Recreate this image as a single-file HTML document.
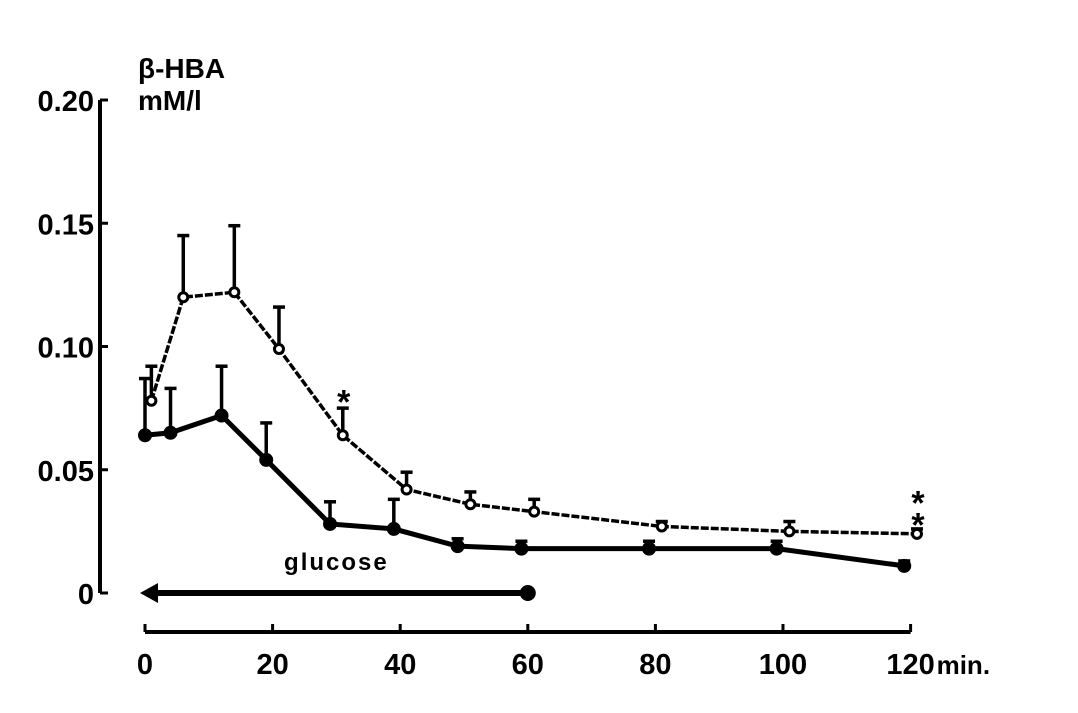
<!DOCTYPE html>
<html><head><meta charset="utf-8"><style>
body{margin:0;background:#fff}
text{font-family:"Liberation Sans",sans-serif;font-weight:bold;fill:#000}
</style></head><body>
<svg id="chart" width="1078" height="708" xmlns="http://www.w3.org/2000/svg">
<g id="axes"></g>
<g id="marks"></g>
</svg>
<script>
const yTicks=[0,0.05,0.10,0.15,0.20];
const yTickLabels=["0","0.05","0.10","0.15","0.20"];
const xTicks=[0,20,40,60,80,100,120];
const xTickLabels=["0","20","40","60","80","100","120"];
const controlTimes=[0,4,12,19,29,39,49,59,79,99,119];
const controlValues=[0.064,0.065,0.072,0.054,0.028,0.026,0.019,0.018,0.018,0.018,0.011];
const controlErrTop=[0.087,0.083,0.092,0.069,0.037,0.038,0.022,0.021,0.021,0.021,0.013];
const testTimes=[1,6,14,21,31,41,51,61,81,101,121];
const testValues=[0.078,0.120,0.122,0.099,0.064,0.042,0.036,0.033,0.027,0.025,0.024];
const testErrTop=[0.092,0.145,0.149,0.116,0.075,0.049,0.041,0.038,0.029,0.029,0.026];
const glucoseRange=[0,60];
const NS="http://www.w3.org/2000/svg";
const X=t=>145+6.38*t, Y=v=>593-v*2465;
const axes=document.getElementById('axes'), marks=document.getElementById('marks');
function mk(p,tag,a){const e=document.createElementNS(NS,tag);for(const k in a)e.setAttribute(k,a[k]);p.appendChild(e);return e;}
let e=mk(axes,'line',{x1:100,y1:Y(0.2),x2:100,y2:Y(0),stroke:'#000','stroke-width':4});


yTicks.forEach((v,i)=>{
 let t=mk(axes,'line',{x1:100,y1:Y(v),x2:108,y2:Y(v),stroke:'#000','stroke-width':3});
 
 
 let l=mk(axes,'text',{x:94,y:Y(v)+11,'text-anchor':'end','font-size':29});
 l.textContent=yTickLabels[i];
 
 
});
e=mk(axes,'line',{x1:X(0),y1:632,x2:X(120),y2:632,stroke:'#000','stroke-width':4});


xTicks.forEach((v,i)=>{
 let t=mk(axes,'line',{x1:X(v),y1:632,x2:X(v),y2:624,stroke:'#000','stroke-width':3});
 
 
 let l=mk(axes,'text',{x:X(v),y:674,'text-anchor':'middle','font-size':29});
 l.textContent=xTickLabels[i];
 
 
});
e=mk(axes,'text',{x:X(120)+26,y:674,'font-size':26});e.textContent='min.';


e=mk(axes,'text',{x:138,y:78,'font-size':28});e.textContent='β-HBA';


e=mk(axes,'text',{x:138,y:110,'font-size':28});e.textContent='mM/l';


e=mk(marks,'line',{x1:X(glucoseRange[0])+8,y1:593,x2:X(glucoseRange[1]),y2:593,stroke:'#000','stroke-width':6});


e=mk(marks,'path',{d:`M${X(glucoseRange[0])-5},593 l18,-10 l0,20 z`,fill:'#000'});


e=mk(marks,'circle',{cx:X(glucoseRange[1]),cy:593,r:8,fill:'#000'});


e=mk(marks,'text',{x:X(30),y:570,'text-anchor':'middle','font-size':24,'letter-spacing':2});e.textContent='glucose';


function series(times,vals,errs,filled,name){
 times.forEach((t,i)=>{
  let b=mk(marks,'line',{x1:X(t),y1:Y(vals[i]),x2:X(t),y2:Y(errs[i]),stroke:'#000','stroke-width':3.5});
  
  
  let c=mk(marks,'line',{x1:X(t)-6,y1:Y(errs[i]),x2:X(t)+6,y2:Y(errs[i]),stroke:'#000','stroke-width':3.5});
  
  
 });
 const pts=times.map((t,i)=>X(t)+','+Y(vals[i])).join(' ');
 let p=mk(marks,'polyline',{points:pts,fill:'none',stroke:'#000','stroke-width':filled?5:3.5,'stroke-dasharray':filled?'none':'8,2'});
 
 
 times.forEach((t,i)=>{
  let c=mk(marks,'circle',{cx:X(t),cy:Y(vals[i]),r:filled?5.5:4.5,fill:filled?'#000':'#fff',stroke:'#000','stroke-width':3});
  
  
 });
}
series(controlTimes,controlValues,controlErrTop,true,'control');
series(testTimes,testValues,testErrTop,false,'test');
[[31,0.081],[121,0.040],[121,0.031]].forEach(s=>{
 let a=mk(marks,'text',{x:X(s[0])+1,y:Y(s[1])+20,'text-anchor':'middle','font-size':34});a.textContent='*';
 
 
});
</script>
</body></html>
